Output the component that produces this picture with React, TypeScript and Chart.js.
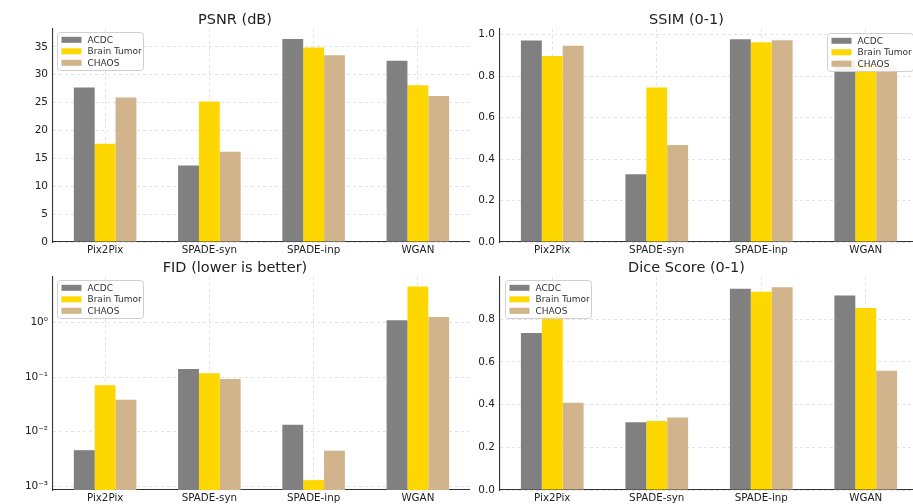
import React, { useEffect, useRef } from "react";
import { Chart, registerables } from "chart.js";

Chart.register(...registerables);

const categories = ["Pix2Pix", "SPADE-syn", "SPADE-inp", "WGAN"];
const seriesNames = ["ACDC", "Brain Tumor", "CHAOS"];
const seriesColors = ["#808080", "#FFD700", "#D2B48C"];

const psnrACDC = [27.7, 13.7, 36.4, 32.5];
const psnrBrain = [17.6, 25.2, 34.9, 28.1];
const psnrCHAOS = [25.9, 16.2, 33.5, 26.2];

const ssimACDC = [0.971, 0.327, 0.978, 0.88];
const ssimBrain = [0.897, 0.745, 0.963, 0.86];
const ssimCHAOS = [0.946, 0.468, 0.973, 0.85];

const fidACDC = [0.0046, 0.142, 0.0134, 1.1];
const fidBrain = [0.0714, 0.118, 0.0013, 4.6];
const fidCHAOS = [0.0385, 0.093, 0.0045, 1.27];

const diceACDC = [0.735, 0.317, 0.942, 0.911];
const diceBrain = [0.82, 0.323, 0.928, 0.852];
const diceCHAOS = [0.409, 0.339, 0.95, 0.559];

const psnrTicks = [0, 5, 10, 15, 20, 25, 30, 35];
const ssimTicks = [0, 0.2, 0.4, 0.6, 0.8, 1.0];
const diceTicks = [0, 0.2, 0.4, 0.6, 0.8];
const fidTicks = [0.001, 0.01, 0.1, 1];
const fidTickLabels = ["10\u207B\u00B3", "10\u207B\u00B2", "10\u207B\u00B9", "10\u2070"];

const FONT = "'DejaVu Sans', 'Liberation Sans', sans-serif";

type PanelCfg = {
  title: string;
  left: number;
  top: number;
  width: number;
  height: number;
  axisW: number;
  values: number[][];
  log?: boolean;
  min: number;
  max: number;
  ticks: number[];
  tickLabel: (v: number) => string;
  legend: { x: number; y: number; w: number; h: number };
};

function makeLegendPlugin(lg: { x: number; y: number; w: number; h: number }) {
  return {
    id: "boxLegend",
    afterDraw(chart: any) {
      const ctx = chart.ctx as CanvasRenderingContext2D;
      ctx.save();
      const r = 3;
      const { x, y, w, h } = lg;
      ctx.beginPath();
      ctx.moveTo(x + r, y);
      ctx.lineTo(x + w - r, y);
      ctx.arcTo(x + w, y, x + w, y + r, r);
      ctx.lineTo(x + w, y + h - r);
      ctx.arcTo(x + w, y + h, x + w - r, y + h, r);
      ctx.lineTo(x + r, y + h);
      ctx.arcTo(x, y + h, x, y + h - r, r);
      ctx.lineTo(x, y + r);
      ctx.arcTo(x, y, x + r, y, r);
      ctx.closePath();
      ctx.fillStyle = "rgba(255,255,255,0.9)";
      ctx.fill();
      ctx.strokeStyle = "#d0d0d0";
      ctx.lineWidth = 1;
      ctx.stroke();
      ctx.font = `9px ${FONT}`;
      ctx.textBaseline = "middle";
      ctx.textAlign = "left";
      const rows = [7.3, 18.8, 30.3];
      seriesNames.forEach((name, i) => {
        const cy = y + rows[i];
        ctx.fillStyle = seriesColors[i];
        ctx.fillRect(x + 4, cy - 3, 20, 6);
        ctx.fillStyle = "#333";
        ctx.fillText(name, x + 30, cy + 0.5);
      });
      ctx.restore();
    },
  };
}

function Panel({ cfg }: { cfg: PanelCfg }) {
  const ref = useRef<HTMLCanvasElement | null>(null);
  useEffect(() => {
    if (!ref.current) return;
    const yScale: any = {
      type: cfg.log ? "logarithmic" : "linear",
      min: cfg.min,
      max: cfg.max,
      afterBuildTicks: (s: any) => {
        s.ticks = cfg.ticks.map((v) => ({ value: v }));
      },
      afterFit: (s: any) => {
        s.width = cfg.axisW;
      },
      ticks: {
        callback: (v: any) => cfg.tickLabel(Number(v)),
        font: { family: FONT, size: 10.5 },
        color: "#222",
        padding: 5,
      },
      grid: {
        color: "#dcdcdc",
        lineWidth: 0.8,
        drawTicks: false,
      },
      border: { display: true, color: "#333", width: 1.1, dash: [3, 3] },
    };
    const chart = new Chart(ref.current, {
      type: "bar",
      data: {
        labels: categories,
        datasets: cfg.values.map((vals, i) => ({
          label: seriesNames[i],
          data: vals,
          backgroundColor: seriesColors[i],
          borderWidth: 0,
          categoryPercentage: 0.6,
          barPercentage: 1.0,
        })),
      },
      options: {
        animation: false,
        responsive: false,
        devicePixelRatio: 1,
        layout: { padding: 0 },
        plugins: {
          legend: { display: false },
          tooltip: { enabled: false },
          title: {
            display: true,
            text: cfg.title,
            font: { family: FONT, size: 14.5, weight: "normal" },
            color: "#222",
            padding: { top: 11.2, bottom: 0.4 },
          },
        },
        scales: {
          x: {
            offset: true,
            afterFit: (s: any) => {
              s.height = 14;
            },
            ticks: {
              font: { family: FONT, size: 10.3 },
              color: "#222",
              padding: 2,
              maxRotation: 0,
              autoSkip: false,
            },
            grid: {
              offset: false,
              color: "#dcdcdc",
              lineWidth: 0.8,
              drawTicks: false,
            },
            border: { display: true, color: "#333", width: 1.1, dash: [3, 3] },
          },
          y: yScale,
        },
      } as any,
      plugins: [makeLegendPlugin(cfg.legend)],
    });
    return () => chart.destroy();
  }, [cfg]);
  return (
    <canvas
      ref={ref}
      width={cfg.width}
      height={cfg.height}
      style={{
        position: "absolute",
        left: cfg.left,
        top: cfg.top,
        width: cfg.width,
        height: cfg.height,
      }}
    />
  );
}

const fmt1 = (v: number) => v.toFixed(1);
const fmt0 = (v: number) => String(Math.round(v));
const fmtLog = (v: number) => {
  const i = fidTicks.findIndex((t) => Math.abs(Math.log10(t) - Math.log10(v)) < 1e-6);
  return i >= 0 ? fidTickLabels[i] : "";
};

const panels: PanelCfg[] = [
  {
    title: "PSNR (dB)",
    left: 0,
    top: 0,
    width: 470,
    height: 256,
    axisW: 53,
    values: [psnrACDC, psnrBrain, psnrCHAOS],
    min: 0,
    max: 38.2,
    ticks: psnrTicks,
    tickLabel: fmt0,
    legend: { x: 57.5, y: 32.5, w: 86, h: 38 },
  },
  {
    title: "SSIM (0-1)",
    left: 455,
    top: 0,
    width: 463,
    height: 256,
    axisW: 45,
    values: [ssimACDC, ssimBrain, ssimCHAOS],
    min: 0,
    max: 1.027,
    ticks: ssimTicks,
    tickLabel: fmt1,
    legend: { x: 372.5, y: 33.5, w: 86, h: 38 },
  },
  {
    title: "FID (lower is better)",
    left: 0,
    top: 248,
    width: 470,
    height: 256,
    axisW: 53,
    values: [fidACDC, fidBrain, fidCHAOS],
    log: true,
    min: 0.000857,
    max: 6.85,
    ticks: fidTicks,
    tickLabel: fmtLog,
    legend: { x: 57.5, y: 32.5, w: 86, h: 38 },
  },
  {
    title: "Dice Score (0-1)",
    left: 455,
    top: 248,
    width: 463,
    height: 256,
    axisW: 45,
    values: [diceACDC, diceBrain, diceCHAOS],
    min: 0,
    max: 0.9975,
    ticks: diceTicks,
    tickLabel: fmt1,
    legend: { x: 50.5, y: 32.5, w: 86, h: 38 },
  },
];

export default function App() {
  return (
    <div
      style={{
        position: "fixed",
        left: 0,
        top: 0,
        width: 913,
        height: 504,
        overflow: "hidden",
        background: "#fff",
      }}
    >
      {panels.map((p) => (
        <Panel key={p.title} cfg={p} />
      ))}
    </div>
  );
}
